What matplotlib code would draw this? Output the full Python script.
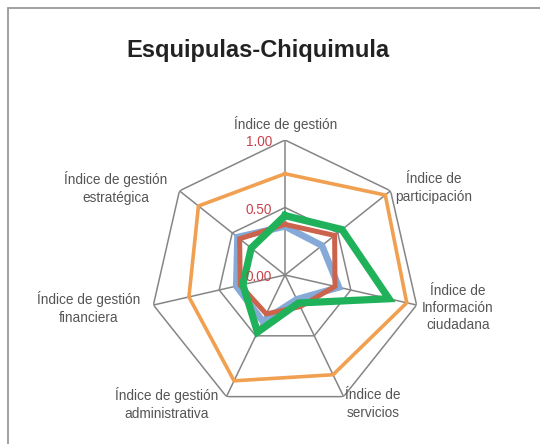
import numpy as np
import matplotlib.pyplot as plt
from matplotlib.patches import Rectangle

plt.rcParams['font.family'] = ['Liberation Sans', 'DejaVu Sans']

titulo = 'Esquipulas-Chiquimula'
indices = ['Índice de gestión', 'Índice de\nparticipación', 'Índice de\nInformación\nciudadana',
           'Índice de\nservicios', 'Índice de gestión\nadministrativa', 'Índice de gestión\nfinanciera',
           'Índice de gestión\nestratégica']

# series values, clockwise from the top axis
naranja = [0.75, 0.95, 0.925, 0.82, 0.87, 0.73, 0.82]
azul = [0.36, 0.35, 0.41, 0.20, 0.38, 0.37, 0.45]
rojo = [0.375, 0.47, 0.38, 0.26, 0.32, 0.34, 0.43]
verde = [0.44, 0.54, 0.79, 0.23, 0.47, 0.32, 0.32]
ticks = [0.0, 0.5, 1.0]

# label centers in pixels (x, y from top)
label_pos = [(286, 124), (434, 188), (458, 308), (373, 404), (167, 404), (89, 308), (116, 188)]

W, H = 540, 444
fig = plt.figure(figsize=(W / 100, H / 100), dpi=100)

# frame
fig.add_artist(Rectangle((8 / W, -0.1), 1.2, (H - 8) / H + 0.1, transform=fig.transFigure,
                         fill=False, edgecolor='#9a9a9a', lw=1.3))

cx, cy, R = 285, 275, 135
ax = fig.add_axes([(cx - R) / W, (H - cy - R) / H, 2 * R / W, 2 * R / H], projection='polar')
ax.set_theta_zero_location('N')
ax.set_theta_direction(-1)
ax.set_ylim(0, 1)
ax.axis('off')

n = len(indices)
ang = np.linspace(0, 2 * np.pi, n, endpoint=False)
ang_c = np.append(ang, ang[0])

grid_col = '#858585'
for r in ticks[1:]:
    ax.plot(ang_c, [r] * (n + 1), color=grid_col, lw=1.1, zorder=1)
for a in ang:
    ax.plot([a, a], [0, 1], color=grid_col, lw=1.1, zorder=1)

def cerrar(v):
    return np.append(v, v[0])

ax.plot(ang_c, cerrar(naranja), color='#f0a050', lw=2.6, zorder=3, solid_joinstyle='miter')
ax.plot(ang_c, cerrar(azul), color='#85aad8', lw=4.8, zorder=4, solid_joinstyle='miter')
ax.plot(ang_c, cerrar(rojo), color='#cc634c', lw=3.6, zorder=5, solid_joinstyle='miter')
ax.plot(ang_c, cerrar(verde), color='#1fb25a', lw=5.2, zorder=6, solid_joinstyle='miter')

for t in ticks:
    ax.annotate(f'{t:.2f}', xy=(0, t), xytext=(-13, -2), textcoords='offset pixels',
                color='#c8424e', fontsize=9.8, ha='right', va='center', zorder=7)

for lab, (x, y) in zip(indices, label_pos):
    fig.text(x / W, 1 - y / H, lab, ha='center', va='center', multialignment='center',
             fontsize=9.8, color='#555555', linespacing=1.3)

fig.text(258 / W, 1 - 50 / H, titulo, ha='center', va='center', fontsize=17,
         fontweight='bold', color='#222222')

fig.savefig('out.png', dpi=100)
